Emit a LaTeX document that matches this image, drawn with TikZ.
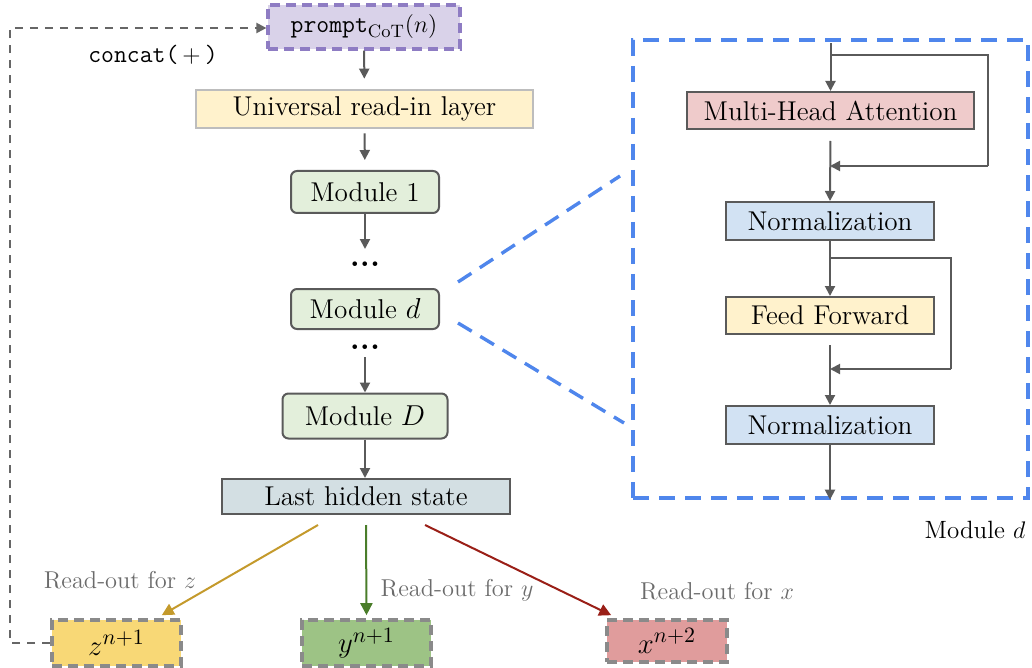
\documentclass[tikz,border=0pt]{standalone}
\usetikzlibrary{arrows.meta,calc}
\definecolor{arrgray}{HTML}{5A5A5A}
\definecolor{boxgray}{HTML}{5A5A5A}
\definecolor{promptfill}{HTML}{D9D2E9}
\definecolor{promptdraw}{HTML}{8E7CC3}
\definecolor{univfill}{HTML}{FFF2CC}
\definecolor{univdraw}{HTML}{BDBDBD}
\definecolor{modfill}{HTML}{E3EFDB}
\definecolor{lastfill}{HTML}{D3DFE3}
\definecolor{mhafill}{HTML}{EFCBCB}
\definecolor{normfill}{HTML}{D2E2F3}
\definecolor{zfill}{HTML}{F8D876}
\definecolor{yfill}{HTML}{9DC385}
\definecolor{xfill}{HTML}{E09C9C}
\definecolor{outdraw}{HTML}{8A8A8A}
\definecolor{modblue}{HTML}{4F86EC}
\definecolor{ycol}{HTML}{C49A2C}
\definecolor{gcol}{HTML}{4A7D2A}
\definecolor{rcol}{HTML}{9A1F17}
\definecolor{labgray}{HTML}{6B6B6B}
\definecolor{fbgray}{HTML}{666666}
\begin{document}
\begin{tikzpicture}[x=0.5pt,y=-0.5pt,
  font=\fontsize{12.5}{15}\selectfont,
  boxfont/.style={font=\fontsize{13.6}{16}\selectfont},
  box/.style={boxfont, draw=boxgray, line width=1pt, inner sep=0pt, minimum height=19pt},
  modbox/.style={box, rounded corners=3pt, fill=modfill, minimum width=74pt, minimum height=21pt},
  arr/.style={-{Triangle[length=5pt,width=5pt]}, draw=arrgray, line width=1pt},
  outbox/.style={draw=outdraw, line width=1.8pt, dash pattern=on 5pt off 3pt, inner sep=0pt, minimum width=64.5pt, minimum height=23pt},
  fb/.style={draw=fbgray, line width=1.1pt, dash pattern=on 4pt off 3.5pt, -{Triangle[length=5pt,width=5pt]}},
  bluedash/.style={draw=modblue, line width=1.7pt, dash pattern=on 8pt off 5pt},
  lab/.style={text=labgray, font=\fontsize{12.2}{14}\selectfont},
  dotsnode/.style={inner sep=0pt, anchor=base, font=\bfseries\fontsize{16}{16}\selectfont}
]
\useasboundingbox (0,0) rectangle (1032,668);

% left column
\node[draw=promptdraw, fill=promptfill, line width=1.6pt, dash pattern=on 5pt off 3pt, minimum width=96pt, minimum height=22pt, inner sep=0pt] (prompt) at (364,27) {\texttt{prompt}$_{\mathrm{CoT}}(n)$};
\node (concat) at (153,55) {\texttt{concat(}$\,+\,$\texttt{)}};
\node[boxfont, draw=univdraw, fill=univfill, line width=1.3pt, minimum width=168.5pt, minimum height=19pt, inner sep=0pt] (univ) at (364.5,109) {Universal read-in layer};
\node[modbox] (m1) at (365,192) {Module 1};
\node[dotsnode] (dots1) at (365,266) {...};
\node[modbox, minimum height=20pt] (md) at (365,309) {Module $d$};
\node[dotsnode] (dots2) at (365,349) {...};
\node[modbox, minimum width=82.5pt, minimum height=22.5pt] (mD) at (365,416) {Module $D$};
\node[box, fill=lastfill, minimum width=144pt, minimum height=17.5pt] (last) at (366,496.5) {Last hidden state};

\node[outbox, fill=zfill] (z) at (116.5,643) {\fontsize{15.5}{15.5}\selectfont$z^{n+1}$};
\node[outbox, fill=yfill] (y) at (366.5,643) {\fontsize{15.5}{15.5}\selectfont$y^{n+1}$};
\node[outbox, fill=xfill, minimum width=60pt, minimum height=21pt] (x) at (667,641) {\fontsize{15.5}{15.5}\selectfont$x^{n+2}$};

\node[lab] (lz) at (120,580) {Read-out for $z$};
\node[lab] (ly) at (457,590) {Read-out for $y$};
\node[lab] (lx) at (717,591) {Read-out for $x$};

\draw[arr, shorten >=5pt] (prompt) -- (univ);
\draw[arr, shorten <=2pt, shorten >=5pt] (univ) -- (m1);
\draw[arr] (m1.south) -- ($(m1.south)+(0,35)$);
\draw[arr] ($(dots2.base)+(0,8)$) -- (mD.north);
\draw[arr] (mD.south) -- (mD.south |- last.north);

\draw[-{Triangle[length=6pt,width=6pt]}, draw=ycol, fill=ycol, line width=1pt] ($(last.south)+(-48,10)$) -- ($(z.north east)+(-21,-3)$);
\draw[-{Triangle[length=6pt,width=6pt]}, draw=gcol, fill=gcol, line width=1pt] ($(last.south)+(0,10)$) -- ($(y.north)+(0,-3)$);
\draw[-{Triangle[length=6pt,width=6pt]}, draw=rcol, fill=rcol, line width=1pt] ($(last.south)+(59,10)$) -- ($(x.north west)+(6,-3)$);

\coordinate (fbl) at (10,643);
\coordinate (fbt) at (10,28);
\draw[fb] (z.west) -- (fbl) -- (fbt) -- (prompt.west |- fbt);

% module d detail
\node[draw=modblue, line width=1.7pt, dash pattern=on 8pt off 5pt, minimum width=197.5pt, minimum height=229pt, inner sep=0pt] (mod) at (830.5,269) {};
\node (modlab) at (975,530) {Module $d$};
\draw[bluedash] ($(md.east)+(18,-27)$) -- (620,176);
\draw[bluedash] ($(md.east)+(18,14)$) -- (624,423);

\node[box, fill=mhafill, minimum width=143.5pt, minimum height=18.5pt] (mha) at (830.5,110.5) {Multi-Head Attention};
\node[box, fill=normfill, minimum width=104pt] (n1) at (830,221) {Normalization};
\node[box, fill=univfill, minimum width=104pt, minimum height=18.5pt] (ff) at (830,315.5) {Feed Forward};
\node[box, fill=normfill, minimum width=104pt] (n2) at (830,425) {Normalization};

\coordinate (r1s) at (830,55);
\coordinate (r1a) at (988,55);
\coordinate (r1b) at (988,166);
\coordinate (r1e) at (830,166);
\coordinate (r2s) at (830,258);
\coordinate (r2a) at (951,258);
\coordinate (r2b) at (951,369);
\coordinate (r2e) at (830,369);

\draw[arr] ($(mod.north -| mha.north)+(0,5)$) -- (mha.north);
\draw[draw=arrgray, line width=1pt] (r1s) -- (r1a) -- (r1b);
\draw[arr] (r1b) -- (r1e);
\draw[arr, shorten <=5.5pt] (mha.south) -- (n1.north);
\draw[draw=arrgray, line width=1pt] (r2s) -- (r2a) -- (r2b);
\draw[arr] (r2b) -- (r2e);
\draw[arr] (n1.south) -- (ff.north);
\draw[arr, shorten <=5pt] (ff.south) -- (n2.north);
\draw[arr] (n2.south) -- (n2.south |- mod.south);
\end{tikzpicture}
\end{document}
